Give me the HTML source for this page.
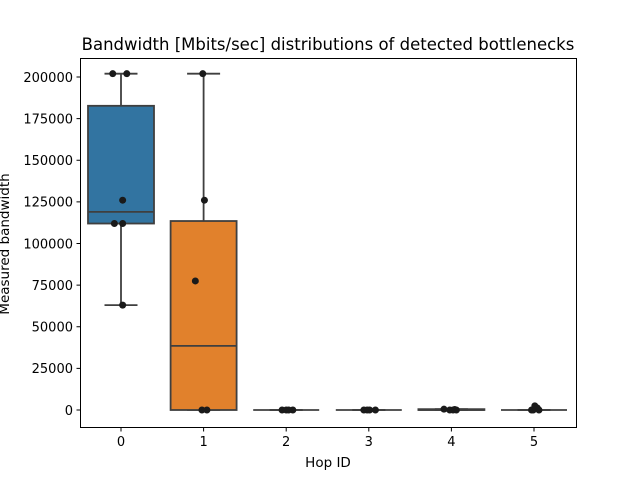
<!DOCTYPE html>
<html><head><meta charset="utf-8"><style>
body{margin:0;background:#fff;}
svg{display:block;font-family:"DejaVu Sans","Liberation Sans",sans-serif;}
</style></head><body>
<svg id="chart" width="640" height="480" viewBox="0 0 640 480">
<rect x="0" y="0" width="640" height="480" fill="#fff"/>
<text x="328" y="50" font-size="16.5" text-anchor="middle">Bandwidth [Mbits/sec] distributions of detected bottlenecks</text>
<g id="plot"></g>
<rect x="80.5" y="58.5" width="496" height="369" fill="none" stroke="#000" stroke-width="1"/>
<text x="328" y="467" font-size="13.5" text-anchor="middle">Hop ID</text>
<text transform="translate(9,244) rotate(-90)" font-size="13.5" text-anchor="middle">Measured bandwidth</text>
</svg>
<script>
const categories = ["0","1","2","3","4","5"];
const q1 = [112000, 0, 0, 0, 0, 0];
const medians = [119000, 38500, 0, 0, 0, 0];
const q3 = [182700, 113500, 0, 0, 500, 0];
const whiskLo = [63000, 0, 0, 0, 0, 0];
const whiskHi = [202000, 202000, 0, 0, 500, 0];
const colors = ["#3274a1","#e1812c","#3a923a","#c03d3e","#9372b2","#845b53"];
const pointCat = [0,0,0,0,0,0, 1,1,1,1,1, 2,2,2,2, 3,3,3,3, 4,4,4,4,4, 5,5,5,5,5];
const pointVal = [202000,202000,126000,112000,112000,63000, 202000,126000,77500,0,0, 0,0,0,0, 0,0,0,0, 500,0,0,0,300, 0,2500,1200,0,0];
const pointJit = [-0.1,0.07,0.02,-0.08,0.02,0.02, -0.01,0.01,-0.1,-0.02,0.04, -0.05,0,0.03,0.08, -0.06,-0.02,0.01,0.08, -0.09,-0.02,0.02,0.06,0.04, -0.03,0.01,0.04,-0.01,0.06];
const yTicks = [0,25000,50000,75000,100000,125000,150000,175000,200000];

const NS="http://www.w3.org/2000/svg";
const g=document.getElementById('plot');
const svg=document.getElementById('chart');
const y=v=>410-v*333/200000;
const x=i=>121+i*82.6;
const HW=33;
function mk(tag,attrs,parent){const e=document.createElementNS(NS,tag);for(const k in attrs)e.setAttribute(k,attrs[k]);(parent||g).appendChild(e);return e;}
yTicks.forEach(t=>{
  const l=mk('line',{x1:76.5,x2:80.5,y1:y(t),y2:y(t),stroke:'#000'},svg);
  
  
  const tx=mk('text',{x:73,y:y(t)+4.8,'font-size':13,'text-anchor':'end'},svg);
  tx.textContent=t;
  
  
});
categories.forEach((c,i)=>{
  const l=mk('line',{x1:x(i),x2:x(i),y1:427.5,y2:431.5,stroke:'#000'},svg);
  
  
  const tx=mk('text',{x:x(i),y:446,'font-size':13,'text-anchor':'middle'},svg);
  tx.textContent=c;
  
  
});
const st={stroke:'#3f3f3f','stroke-width':1.8,fill:'none'};
categories.forEach((c,i)=>{
  const cx=x(i);
  const wl=mk('line',Object.assign({x1:cx,x2:cx,y1:y(q1[i]),y2:y(whiskLo[i])},st));
  
  
  const wh=mk('line',Object.assign({x1:cx,x2:cx,y1:y(q3[i]),y2:y(whiskHi[i])},st));
  
  
  [whiskLo[i],whiskHi[i]].forEach(v=>{
    const cap=mk('line',Object.assign({x1:cx-HW/2,x2:cx+HW/2,y1:y(v),y2:y(v)},st));
    
    
  });
  const b=mk('rect',{x:cx-HW,y:y(q3[i]),width:2*HW,height:Math.max(0,y(q1[i])-y(q3[i])),fill:colors[i],stroke:'#3f3f3f','stroke-width':1.8});
  
  
  const m=mk('line',Object.assign({x1:cx-HW,x2:cx+HW,y1:y(medians[i]),y2:y(medians[i])},st));
  
  
});
pointVal.forEach((v,k)=>{
  const p=mk('circle',{cx:x(pointCat[k]+pointJit[k]),cy:y(v),r:3.5,fill:'#1a1a1a'});
  
  
});
</script>
</body></html>
